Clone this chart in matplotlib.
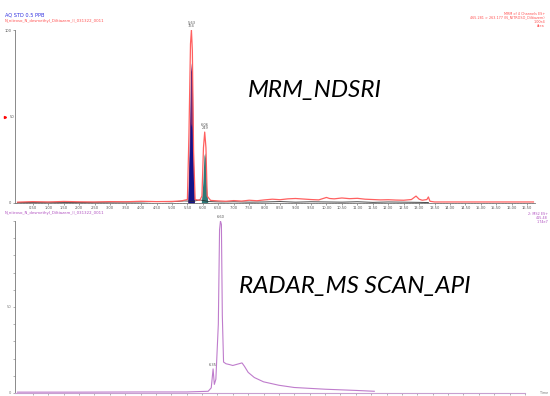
import matplotlib
matplotlib.use('Agg')
import matplotlib.pyplot as plt
import numpy as np

# ---- top panel: MRM channels (time in min, relative intensity %) ----
red_t = [0.0, 0.5, 1.0, 1.5, 2.0, 2.5, 3.0, 3.5, 4.0, 4.5, 5.0, 5.3, 5.50, 5.55, 5.60, 5.63, 5.66,
         5.70, 5.75, 5.9, 5.97, 6.02, 6.06, 6.10, 6.14, 6.25, 6.5, 6.75, 7.0, 7.25, 7.5, 7.75,
         8.0, 8.25, 8.5, 8.75, 9.0, 9.25, 9.5, 9.75, 10.0, 10.1, 10.25, 10.5, 10.75, 11.0,
         11.25, 11.5, 11.75, 12.0, 12.25, 12.5, 12.75, 12.9, 13.0, 13.1, 13.25, 13.3, 13.35, 13.5, 16.7]
red_v = [0.5, 0.8, 0.6, 0.9, 0.7, 0.6, 0.8, 0.7, 1.0, 0.8, 0.9, 1.2, 2.0, 40, 92, 100, 88,
         30, 2.0, 1.5, 4, 32, 41, 32, 4, 1.5, 1.2, 1.0, 1.4, 1.1, 1.6, 1.3,
         1.8, 2.2, 1.9, 2.4, 2.6, 2.3, 2.0, 1.8, 3.2, 2.6, 2.4, 2.9, 2.5, 2.7,
         2.2, 2.0, 1.8, 1.9, 1.7, 1.6, 2.0, 4.0, 2.2, 1.6, 2.0, 3.5, 1.0, 0.6, 0.6]

blue_t = [5.51, 5.555, 5.60, 5.63, 5.66, 5.695, 5.73]
blue_v = [0.0, 32, 76, 81, 72, 24, 0.0]
navy_t = [5.52, 5.56, 5.60, 5.63, 5.66, 5.69, 5.72]
navy_v = [0.0, 24, 44, 46, 42, 16, 0.0]
teal_t = [5.95, 6.00, 6.035, 6.06, 6.085, 6.12, 6.16]
teal_v = [0.0, 12, 27, 29, 26, 9, 0.0]

black_t = [0.0, 1.0, 2.0, 3.0, 4.0, 4.5, 5.0, 5.4, 5.7, 5.9, 6.2, 6.6, 7.0, 7.5, 8.0, 8.5, 9.0,
           9.5, 10.0, 10.5, 11.0, 11.5, 12.0, 12.5, 13.0, 13.3]
black_v = [0.3, 0.4, 0.3, 0.5, 0.6, 0.9, 0.7, 1.2, 1.0, 1.8, 0.8, 0.6, 0.7, 0.5, 0.6, 0.8, 0.5,
           0.7, 0.6, 0.5, 0.7, 0.4, 0.6, 0.5, 0.4, 0.3]

# ---- bottom panel: MS2 scan ----
scan_t = [0.0, 2.0, 4.0, 5.5, 6.2, 6.30, 6.36, 6.40, 6.45, 6.53, 6.57, 6.60, 6.63, 6.66, 6.70,
          6.78, 6.9, 7.0, 7.1, 7.2, 7.3, 7.38, 7.5, 7.7, 8.0, 8.5, 9.0, 10.0, 11.0, 11.6]
scan_v = [0.5, 0.5, 0.6, 0.6, 1.0, 3.0, 14.0, 5.0, 8.0, 40, 95, 100, 98, 45, 18,
          17, 16.5, 16.0, 16.5, 17.0, 17.5, 15.5, 12.0, 9.0, 6.5, 4.5, 3.2, 2.2, 1.5, 1.0]

x_ticks = np.arange(0.5, 17.0, 0.5)

fig = plt.figure(figsize=(5.5, 3.96), dpi=100)
x0, x1 = -0.08, 16.75

# top panel
ax1 = fig.add_axes([15/550, 1-203/396, 520/550, 173/396])
ax1.fill_between(blue_t, blue_v, color='#6a2a78', lw=0)
ax1.fill_between(navy_t, navy_v, color='#14148a', lw=0)
ax1.fill_between(teal_t, teal_v, color='#2e7a78', lw=0)
ax1.plot(black_t, black_v, color='#303030', lw=0.6)
ax1.plot(red_t, red_v, color='#ff6060', lw=0.9)
ax1.set_xlim(x0, x1)
ax1.set_ylim(0, 100)
ax1.set_xticks(x_ticks)
ax1.set_xticklabels(['%.2f' % t for t in x_ticks], fontsize=2.6, color='#555555')
ax1.set_xticks(np.arange(0, 16.8, 0.1), minor=True)
ax1.set_yticks([0, 100])
ax1.set_yticklabels(['0', '100'], fontsize=2.6, color='#555555')
ax1.tick_params(length=1.5, width=0.4, pad=1, colors='#555555')
ax1.tick_params(which='minor', length=0.8, width=0.3)
for s in ['top', 'right']:
    ax1.spines[s].set_visible(False)
for s in ['left', 'bottom']:
    ax1.spines[s].set_color('#777777')
    ax1.spines[s].set_linewidth(0.6)
ax1.text(5.63, 101, '5.63\n764', fontsize=2.6, color='#555555', ha='center', va='bottom',
         linespacing=0.9)
ax1.text(6.06, 42, '6.06\n249', fontsize=2.6, color='#555555', ha='center', va='bottom',
         linespacing=0.9)
ax1.plot([-0.4], [50], marker='>', color='red', ms=1.5, clip_on=False)
ax1.text(-0.25, 50, '50', fontsize=2.6, color='#555555', va='center')

# bottom panel
ax2 = fig.add_axes([15/550, 1-393/396, 510/550, 172/396])
ax2.plot(scan_t, scan_v, color='#bf7ccc', lw=0.8)
ax2.set_xlim(x0, 16.42)
ax2.set_ylim(0, 100)
ax2.set_xticks(x_ticks)
ax2.set_xticklabels([])
ax2.set_xticks(np.arange(0, 16.4, 0.1), minor=True)
ax2.set_yticks(np.arange(0, 101, 10))
ax2.set_yticklabels(['0', '', '', '', '', '50', '', '', '', '', ''], fontsize=2.6,
                    color='#555555')
ax2.tick_params(length=1.5, width=0.4, pad=1, colors='#777777')
ax2.tick_params(which='minor', length=0.8, width=0.3)
for s in ['top', 'right']:
    ax2.spines[s].set_visible(False)
ax2.spines['left'].set_color('#777777')
ax2.spines['left'].set_linewidth(0.6)
ax2.spines['bottom'].set_color('#c8a0d0')
ax2.spines['bottom'].set_linewidth(0.8)
ax2.text(6.60, 101, '6.60', fontsize=2.6, color='#555555', ha='center', va='bottom')
ax2.text(6.36, 15, '6.35', fontsize=2.6, color='#555555', ha='center', va='bottom')

# header texts
fig.text(5/550, 1-15/396, 'AQ STD 0.5 PPB', fontsize=3.6, color='#3030e0', va='center')
fig.text(5/550, 1-21/396, 'N_nitroso_N_desmethyl_Diltiazem_II_031322_0011', fontsize=2.8,
         color='#ff5050', va='center')
fig.text(545/550, 1-20/396, 'MRM of 4 Channels ES+\n465.281 > 263.177 (N_NITROSO_Diltiazem)\n1.00e4\nArea',
         fontsize=2.4, color='#ff5050', ha='right', va='center', multialignment='right',
         linespacing=1.1)
fig.text(5/550, 1-213/396, 'N_nitroso_N_desmethyl_Diltiazem_II_031322_0011', fontsize=2.8,
         color='#b050c0', va='center')
fig.text(548/550, 1-218/396, '2: MS2 ES+\n415.48\n1.74e7', fontsize=2.4, color='#b050c0',
         ha='right', va='center', multialignment='right', linespacing=1.1)
fig.text(548/550, 1-393/396, 'Time', fontsize=2.4, color='#777777', ha='right', va='center')

# annotation labels
fig.text(248/550, 1-90/396, 'MRM_NDSRI', fontsize=17.5, style='italic', family='Lato',
         va='center')
fig.text(239/550, 1-287/396, 'RADAR_MS SCAN_API', fontsize=17.5, style='italic', family='Lato',
         va='center')

fig.savefig('out.png', dpi=100)
